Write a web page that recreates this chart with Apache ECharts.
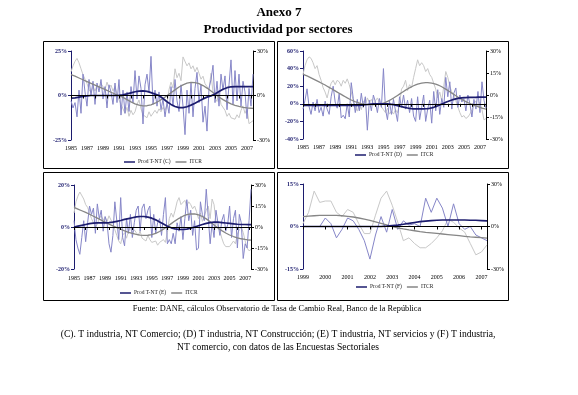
<!DOCTYPE html>
<html><head><meta charset="utf-8">
<script src="https://cdn.jsdelivr.net/npm/echarts@6/dist/echarts.min.js"></script>
<style>html,body{margin:0;padding:0;background:#fff}#c{width:578px;height:395px}</style>
</head><body><div id="c"></div><script>
// ---------- data ----------
const yearsCDE = [1985,1986,1987,1988,1989,1990,1991,1992,1993,1994,1995,1996,1997,1998,1999,2000,2001,2002,2003,2004,2005,2006,2007];
const yearsF = [1999,2000,2001,2002,2003,2004,2005,2006,2007];
const quartersF = 34; // 1999Q1 .. 2007Q2

const prodC = [-3,-7,-4,-12, 3,-10,12,2, -6,9,0,8, -5,7,2,9, -2,5,-7,6, 2,-5,7,-4, 9,-11,3,-10, 2,-9,5,-4, 14,-2,11,4, -16,6,12,2, 22,-5,3,-6, 2,-8,-2,-12, -4,-10,5,-6, 9,-3,-9,6, -6,-22,3,-10, 7,-12,4,13, -4,6,-15,-6, -20,4,9,17, -4,8,-6,12, 3,11,-8,6, 20,-5,14,-3, 12,-6,8,2, -13,4,-6,12];
const itcrC = [16,20,23,25, 22,18,14,11, 8,4,2,6, 3,7,5,8, 6,4,9,5, 7,3,6,1, -3,-6,-9,-12, -8,-14,-10,-13, -11,-6,-3,-9, -13,-12,-15,-11, -14,-13,-10,-12, -9,-11,-8,-10, -6,4,9,5, 18,12,15,10, 26,25,20,22, 18,20,16,19, 15,11,13,8, 6,4,15,2, -2,-4,3,-6, -7,-10,-14,-12, -15,-14,-16,-13, -15,-10,-7,-12, -9,-19,-18,-17];
const trendProdC = [-1.5,-1.4,-1.3,-1.1, -0.9,-0.7,-0.5,-0.3, -0.2,-0.1,0,0, 0,0,0,0, 0,0,0,0, 0,0,0,0, 0.1,0.2,0.4,0.6, 0.9,1.2,1.5,1.8, 2.1,2.3,2.5,2.6, 2.6,2.5,2.3,2.0, 1.6,1.2,0.8,0.4, 0,-0.8,-1.7,-2.6, -3.5,-4.3,-5.0,-5.7, -6.2,-6.6,-6.8,-6.9, -6.8,-6.6,-6.3,-5.9, -5.4,-4.9,-4.3,-3.7, -3.1,-2.5,-1.9,-1.4, -0.9,-0.5,-0.2,0.2, 0.8,1.5,2.2,2.9, 3.5,4.0,4.4,4.7, 4.9,5.0,5.0,5.0, 5.0,5.0,5.0,5.0, 5.0,5.0,5.0,5.0];
const trendItcrC = [14,13.5,13,12.4, 11.8,11.2,10.6,10, 9.4,8.8,8.2,7.6, 7,6.4,5.8,5.2, 4.6,4,3.4,2.8, 2.2,1.6,1,0.5, 0,-0.6,-1.3,-2, -2.8,-3.6,-4.3,-5, -5.6,-6.1,-6.5,-6.8, -7,-7,-6.9,-6.7, -6.3,-5.8,-5.2,-4.5, -3.7,-2.9,-2,-1.1, -0.2,0.8,1.8,2.8, 3.8,4.8,5.7,6.5, 7.2,7.8,8.3,8.6, 8.8,8.8,8.7,8.4, 8,7.4,6.7,5.9, 5,4,3,2, 1,0,-1,-1.9, -2.8,-3.6,-4.3,-5, -5.6,-6.1,-6.6,-7, -7.4,-7.7,-8,-8.2, -8.4,-8.5,-8.6,-8.7];

const prodD = [-6,4,17,-3, -12,2,-8,5, -10,-4,-14,3, -6,-12,8,20, 2,-5,12,-16, -13,-17,0,-15, 24,6,-10,5, -8,12,-4,8, -30,4,-8,10, 2,-10,6,-4, 40,-6,-18,3, -12,5,-8,-20, 8,-4,10,-6, 4,-10,6,-14, -20,8,-18,-4, 10,-20,-6,4, -22,14,-8,16, -12,6,-4,30, 8,25,-6,12, 18,-4,10,2, 6,-8,10,0, -15,5,-6,14, -10,25,4,-5];
const itcrD = [14,20,24,26, 25,22,18,20, 14,10,5,2, -2,4,8,10, 7,10,9,6, 10,8,11,7, 2,-4,-8,-11, -6,-10,-4,-7, -2,-5,-3,-6, -4,-2,-5,-8, -10,-12,-9,-13, -11,-13,-10,-12, -6,4,6,10, 3,7,5,12, 18,24,20,22, 20,16,18,14, 12,8,4,-2, 2,-4,6,16, 12,6,2,0, -4,-8,-12,-15, -14,-16,-15,-13, -10,-6,-4,-8, -5,-10,-17,-16];
const trendProdD = [-1.8,-1.8,-1.9,-1.9, -1.9,-1.9,-1.9,-1.9, -1.9,-1.9,-1.9,-1.9, -1.9,-1.9,-1.9,-1.9, -1.9,-1.9,-1.9,-1.9, -1.9,-1.9,-1.9,-1.9, -1.9,-1.9,-1.9,-1.9, -1.8,-1.6,-1.4,-1.1, -0.8,-0.5,-0.3,-0.1, 0,0,0,0, 0,0,-0.1,-0.3, -0.6,-1,-1.5,-2, -2.6,-3.2,-3.8,-4.3, -4.8,-5.2,-5.5,-5.7, -5.8,-5.8,-5.8,-5.8, -5.7,-5.6,-5.4,-5.1, -4.6,-4,-3.2,-2.3, -1.3,-0.3,0.7,1.7, 2.6,3.5,4.3,5, 5.6,6.1,6.5,6.8, 7,7.1,7.2,7.3, 7.3,7.4,7.4,7.5, 7.5,7.5,7.6,7.6];
const trendItcrD = [14.2,13.6,13,12.4, 11.7,11,10.3,9.6, 8.9,8.2,7.5,6.8, 6,5.2,4.4,3.6, 2.8,2,1.2,0.4, -0.4,-1.2,-2,-2.7, -3.4,-4,-4.6,-5.1, -5.5,-5.9,-6.2,-6.4, -6.5,-6.6,-6.6,-6.6, -6.5,-6.4,-6.2,-5.9, -5.5,-5,-4.4,-3.7, -2.9,-2.1,-1.2,-0.3, 0.6,1.5,2.4,3.3, 4.1,4.9,5.6,6.3, 6.9,7.4,7.8,8.1, 8.3,8.4,8.4,8.3, 8.1,7.8,7.4,6.9, 6.3,5.6,4.8,4, 3.1,2.2,1.3,0.4, -0.5,-1.4,-2.2,-3, -3.8,-4.5,-5.2,-5.8, -6.4,-7,-7.5,-8, -8.5,-8.9,-9.3,-9.7];

const prodE = [3,-6,-10,-13, -5,3,-7,2, 10,6,9,-3, 11,4,8,-2, 5,2,-8,-12, -4,12,3,-6, 14,-5,-9,4, -3,6,-5,2, 8,10,-2,9, 11,4,8,10, -5,6,-3,2, 4,-4,6,14, -8,-6,-8,-3, -8,2,-2,5, -6,4,13,3, 8,-4,3,-11, -10,12,6,3, 18,5,-8,2, -5,8,2,-4, 3,6,-2,1, 10,-5,4,8, -10,6,2,-15, -8,-10,3,18];
const itcrE = [10,18,22,25, 24,20,16,14, 10,6,3,0, 2,6,8,5, 7,4,8,5, 3,-2,-6,-10, -12,-6,-4,-8, -3,0,-5,-2, -4,-6,-3,-8, -7,-10,-6,-9, -11,-12,-10,-13, -11,-12,-9,-11, -4,6,10,7, 12,18,21,16, 17,19,15,18, 16,13,15,11, 6,10,4,8, 12,15,6,20, 16,4,0,-3, -8,-12,-14,-13, -14,-13,-10,-12, -5,-2,0,-4, -10,-15,-17,-16];
const trendProdE = [0,0.2,0.4,0.6, 0.8,1.0,1.2,1.4, 1.6,1.7,1.8,1.9, 2,2,2,2, 2,2,2.1,2.2, 2.3,2.5,2.7,2.9, 3.1,3.3,3.6,3.8, 4,4.2,4.4,4.6, 4.8,4.9,5,5, 5,4.9,4.7,4.5, 4.2,3.8,3.4,2.9, 2.4,1.9,1.4,0.9, 0.4,0,-0.4,-0.7, -0.9,-1.1,-1.2,-1.2, -1.2,-1.1,-1,-0.8, -0.6,-0.3,0,0.3, 0.6,0.9,1.2,1.5, 1.7,1.9,2.1,2.2, 2.3,2.3,2.3,2.2, 2.1,2,1.9,1.8, 1.7,1.6,1.5,1.4, 1.3,1.3,1.2,1.2, 1.2,1.1,1.1,1.1];
const trendItcrE = [14,13.4,12.8,12.2, 11.6,11,10.4,9.8, 9.1,8.4,7.7,7, 6.3,5.6,4.9,4.2, 3.5,2.8,2.1,1.4, 0.8,0.2,-0.4,-1, -1.6,-2.2,-2.8,-3.3, -3.8,-4.2,-4.6,-5, -5.3,-5.6,-5.8,-5.9, -6,-6,-5.9,-5.7, -5.4,-5,-4.5,-3.9, -3.2,-2.4,-1.5,-0.6, 0.4,1.4,2.4,3.4, 4.4,5.3,6.2,7, 7.7,8.3,8.8,9.1, 9.3,9.4,9.3,9.1, 8.7,8.2,7.5,6.7, 5.8,4.8,3.7,2.6, 1.5,0.4,-0.7,-1.7, -2.6,-3.5,-4.3,-5, -5.7,-6.3,-6.8,-7.3, -7.7,-8.1,-8.4,-8.7, -8.9,-9.1,-9.3,-9.4];

const prodF = [0,0,0,0, 3,1,-4,-1, 3,2,-1,-5, -11.5,-3,3.5,-2, 6,-1,2,0.5, 1,0,10,5, 10,6.5,0,8, 1,-1,0,-3, -4,-5];
const itcrF = [2,10,25,17, 18,18,10,7, 12,10,2,-5, -5,8,20,25, 15,3,-10,-8, -12,-15,-15,-12, -8,-3,5,3, -1,-4,-12,-20, -18,-13];
const trendProdF = [0,0,0,0, 0,0,0,0, 0,0,0,0, 0,0,0,0.1, 0.3,0.5,0.8,1.1, 1.4,1.7,1.9,2.1, 2.2,2.3,2.3,2.3, 2.3,2.3,2.2,2.2, 2.1,2.0];
const trendItcrF = [7,7.3,7.6,7.8, 7.9,7.9,7.8,7.6, 7.2,6.7,6,5.2, 4.3,3.3,2.2,1.1, 0,-0.9,-1.7,-2.4, -3,-3.6,-4.1,-4.5, -4.9,-5.3,-5.7,-6.1, -6.5,-6.9,-7.3,-7.6, -7.9,-8.2];

const seriesNames = ['Prod T-NT (C)','Prod T-NT (D)','Prod T-NT (E)','Prod T-NT (F)'];
const itcrName = 'ITCR';

// ---------- categories ----------
const catsCDE = yearsCDE.flatMap(y => [1,2,3,4].map(q => y + 'Q' + q));
const catsF = yearsF.flatMap(y => [1,2,3,4].map(q => y + 'Q' + q)).slice(0, quartersF);

// ---------- layout ----------
const SERIF = '"Liberation Serif", "DejaVu Serif", serif';
const NAVY = '#1c1c6e', LIGHTBLUE = '#8686c8', LIGHTGRAY = '#c8c8c8', GRAY = '#868686';

const panels = [
  {cats: catsCDE, prod: prodC, itcr: itcrC, tp: trendProdC, ti: trendItcrC, name: seriesNames[0],
   grid: {left: 71, top: 51, width: 182, height: 89}, L: [-25, 25, 25], R: [-30, 30, 30],
   labInt: 7, tickInt: 5, legend: {left: 124, top: 159}, box: [43, 41, 231, 127], labMargin: 5},
  {cats: catsCDE, prod: prodD, itcr: itcrD, tp: trendProdD, ti: trendItcrD, name: seriesNames[1],
   grid: {left: 303, top: 51, width: 183, height: 88}, L: [-40, 60, 20], R: [-30, 30, 15],
   labInt: 7, tickInt: 5, legend: {left: 355, top: 152}, box: [277, 41, 231, 127], labMargin: 5},
  {cats: catsCDE, prod: prodE, itcr: itcrE, tp: trendProdE, ti: trendItcrE, name: seriesNames[2],
   grid: {left: 74, top: 185, width: 177, height: 84}, L: [-20, 20, 20], R: [-30, 30, 15],
   labInt: 7, tickInt: 5, legend: {left: 120, top: 290}, box: [43, 172, 231, 128], labMargin: 6},
  {cats: catsF, prod: prodF, itcr: itcrF, tp: trendProdF, ti: trendItcrF, name: seriesNames[3],
   grid: {left: 303, top: 184, width: 184, height: 85}, L: [-15, 15, 15], R: [-30, 30, 30],
   labInt: 3, tickInt: 3, legend: {left: 356, top: 284}, box: [277, 172, 231, 128], labMargin: 5}
];

const grid = [], xAxis = [], yAxis = [], series = [], legend = [], graphic = [];
panels.forEach((p, i) => {
  grid.push(Object.assign({containLabel: false, outerBoundsMode: 'none'}, p.grid));
  const li = yAxis.length;
  yAxis.push({type: 'value', gridIndex: i, position: 'left', min: p.L[0], max: p.L[1], interval: p.L[2],
    splitLine: {show: false},
    axisLine: {show: true, lineStyle: {color: NAVY, width: 1}},
    axisTick: {show: true, length: 3, lineStyle: {color: NAVY}},
    axisLabel: {formatter: v => v + '%', color: NAVY, fontSize: 6, fontWeight: 'bold', fontFamily: SERIF, margin: 4}});
  const ri = yAxis.length;
  yAxis.push({type: 'value', gridIndex: i, position: 'right', min: p.R[0], max: p.R[1], interval: p.R[2],
    splitLine: {show: false},
    axisLine: {show: true, lineStyle: {color: '#000', width: 1}},
    axisTick: {show: true, length: 3, lineStyle: {color: '#000'}},
    axisLabel: {formatter: v => v + '%', color: '#000', fontSize: 6, fontFamily: SERIF, margin: 4}});
  const xi = xAxis.length;
  xAxis.push({type: 'category', gridIndex: i, data: p.cats, boundaryGap: false, position: 'bottom', z: 5,
    axisLine: {show: true, onZero: true, onZeroAxisIndex: li, lineStyle: {color: '#000', width: 1.2}},
    axisTick: {show: true, interval: p.tickInt, length: 3, lineStyle: {color: '#000'}},
    axisLabel: {show: false}, splitLine: {show: false}});
  xAxis.push({type: 'category', gridIndex: i, data: p.cats, boundaryGap: false, position: 'bottom',
    axisLine: {show: false, onZero: false}, axisTick: {show: false}, splitLine: {show: false},
    axisLabel: {interval: p.labInt, formatter: v => v.slice(0, 4), fontSize: 6, fontFamily: SERIF, color: '#000', margin: p.labMargin}});
  const common = {type: 'line', xAxisIndex: xi, symbol: 'none', showSymbol: false, silent: true};
  series.push(Object.assign({}, common, {name: itcrName + ' obs ' + i, yAxisIndex: ri, data: p.itcr, lineStyle: {color: LIGHTGRAY, width: 1}, itemStyle: {color: LIGHTGRAY}, z: 2}));
  series.push(Object.assign({}, common, {name: 'Prod obs ' + i, yAxisIndex: li, data: p.prod, lineStyle: {color: LIGHTBLUE, width: 1}, itemStyle: {color: LIGHTBLUE}, z: 3}));
  series.push(Object.assign({}, common, {name: itcrName, yAxisIndex: ri, data: p.ti, lineStyle: {color: GRAY, width: 1.3}, itemStyle: {color: GRAY}, z: 4}));
  series.push(Object.assign({}, common, {name: p.name, yAxisIndex: li, data: p.tp, lineStyle: {color: NAVY, width: 1.7}, itemStyle: {color: NAVY}, z: 4}));
  legend.push({data: [{name: p.name, icon: 'rect', itemStyle: {color: NAVY}}, {name: itcrName, icon: 'rect', itemStyle: {color: GRAY}}],
    left: p.legend.left, top: p.legend.top, orient: 'horizontal',
    itemWidth: 11, itemHeight: 1.5, itemGap: 5, padding: 0, selectedMode: false,
    textStyle: {fontSize: 5.5, fontFamily: SERIF, color: '#222', padding: [0, 0, 0, -2]}});
  graphic.push({type: 'rect', shape: {x: p.box[0] + 0.5, y: p.box[1] + 0.5, width: p.box[2], height: p.box[3]},
    style: {fill: 'none', stroke: '#000', lineWidth: 1}, silent: true});
});

const texts = [
  {t: 'Anexo 7', x: 279, y: 13, f: 'bold 13px ' + SERIF},
  {t: 'Productividad por sectores', x: 278, y: 30, f: 'bold 13px ' + SERIF},
  {t: 'Fuente: DANE, cálculos Observatorio de Tasa de Cambio Real, Banco de la República', x: 277, y: 309, f: '8.3px ' + SERIF},
  {t: '(C). T industria, NT Comercio; (D) T industria, NT Construcción; (E) T industria, NT servicios y (F) T industria,', x: 278, y: 334, f: '9.6px ' + SERIF},
  {t: 'NT comercio, con datos de las Encuestas Sectoriales', x: 278, y: 347, f: '9.6px ' + SERIF}
];
texts.forEach(o => graphic.push({type: 'text', x: o.x, y: o.y, silent: true,
  style: {text: o.t, font: o.f, fill: '#000', textAlign: 'center', textVerticalAlign: 'middle', verticalAlign: 'middle'}}));

const chart = echarts.init(document.getElementById('c'), null, {renderer: 'canvas'});
chart.setOption({animation: false, backgroundColor: '#fff', grid, xAxis, yAxis, series, legend, graphic});
</script></body></html>
